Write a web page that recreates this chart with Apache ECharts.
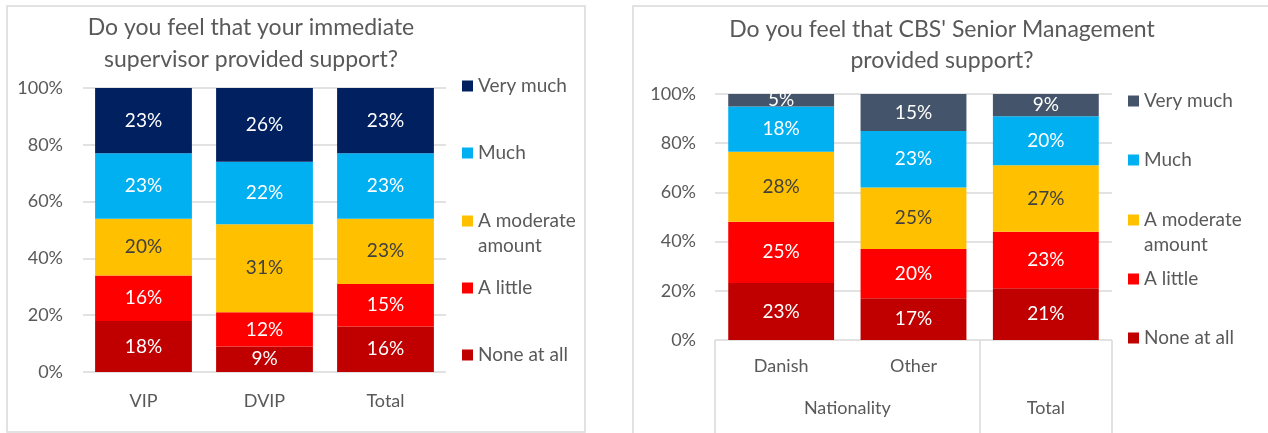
<!DOCTYPE html>
<html><head><meta charset="utf-8">
<script src="https://cdn.jsdelivr.net/npm/echarts@6/dist/echarts.min.js"></script>
<style>html,body{margin:0;padding:0;background:#fff}#c{width:1268px;height:433px}</style>
</head><body><div id="c"></div>
<script>
const seriesNames = ['None at all', 'A little', 'A moderate amount', 'Much', 'Very much'];
const leftCats = ['VIP', 'DVIP', 'Total'];
const leftNone = [18, 9, 16];
const leftLittle = [16, 12, 15];
const leftModerate = [20, 31, 23];
const leftMuch = [23, 22, 23];
const leftVery = [23, 26, 23];
const rightCats = ['Danish', 'Other', 'Total'];
const rightGroups = ['Nationality', 'Total'];
const rightNone = [23.2, 17, 21];
const rightLittle = [24.9, 20, 23];
const rightModerate = [28.4, 25, 27];
const rightMuch = [18.4, 23, 20];
const rightVery = [5.1, 15, 9];
const yTicks = [0, 20, 40, 60, 80, 100];
const leftTitle = 'Do you feel that your immediate\nsupervisor provided support?';
const rightTitle = "Do you feel that CBS' Senior Management\nprovided support?";

const FONT = 'Lato';
const GRAY = '#595959';
const colorsL = ['#C00000', '#FF0000', '#FFC000', '#00B0F0', '#002060'];
const colorsR = ['#C00000', '#FF0000', '#FFC000', '#00B0F0', '#44546A'];
const labelColors = ['#fff', '#fff', '#404040', '#fff', '#fff'];

const leftData = [leftNone, leftLittle, leftModerate, leftMuch, leftVery];
const rightData = [rightNone, rightLittle, rightModerate, rightMuch, rightVery];

function mkSeries(data, colors, xi, yi, stack) {
  return data.map((d, i) => ({
    name: seriesNames[i], type: 'bar', stack: stack,
    xAxisIndex: xi, yAxisIndex: yi, barCategoryGap: '20%',
    data: d, itemStyle: { color: colors[i] },
    label: { show: true, position: 'inside', color: labelColors[i], fontFamily: FONT, fontSize: 19,
      formatter: p => Math.round(p.value) + '%' }
  }));
}

function legendItem(name, color, left, centerY, twoLine) {
  const lh = 25;
  const h = twoLine ? lh * 3 : lh;
  return {
    data: [{ name: name, itemStyle: { color: color } }],
    left: left, top: centerY - h / 2, padding: 0,
    icon: 'rect', itemWidth: 11, itemHeight: 11, selectedMode: false,
    formatter: twoLine ? ' \nA moderate\namount' : '{name}',
    textStyle: { color: GRAY, fontFamily: FONT, fontSize: 19, lineHeight: lh }
  };
}

const legCentersL = [355, 288, 221, 153, 86];
const legCentersR = [338, 279, 220, 160, 101];
const legends = [];
seriesNames.forEach((n, i) => {
  legends.push(legendItem(n, colorsL[i], 462, legCentersL[i], i === 2));
  legends.push(legendItem(n, colorsR[i], 1128, legCentersR[i], i === 2));
});

const yAxisBase = {
  type: 'value', min: 0, max: 100, interval: 20,
  axisLabel: { color: GRAY, fontFamily: FONT, fontSize: 18, formatter: '{value}%', margin: 20 },
  splitLine: { lineStyle: { color: '#d9d9d9', width: 1.5 } },
  axisLine: { show: false }, axisTick: { show: false }
};

const option = {
  animation: false,
  title: [
    { text: leftTitle, left: 251, top: 12, textAlign: 'center', padding: 0,
      textStyle: { color: GRAY, fontFamily: FONT, fontSize: 23, fontWeight: 'normal', lineHeight: 32 } },
    { text: rightTitle, left: 942, top: 14, textAlign: 'center', padding: 0,
      textStyle: { color: GRAY, fontFamily: FONT, fontSize: 23, fontWeight: 'normal', lineHeight: 31 } }
  ],
  legend: legends,
  graphic: [
    { type: 'rect', shape: { x: 7, y: 6, width: 578, height: 426 }, style: { fill: 'none', stroke: '#d9d9d9', lineWidth: 1.5 }, silent: true },
    { type: 'rect', shape: { x: 633, y: 6, width: 700, height: 500 }, style: { fill: 'none', stroke: '#d9d9d9', lineWidth: 1.5 }, silent: true }
  ],
  grid: [
    { left: 83, right: 822, top: 88, bottom: 61 },
    { left: 715, right: 156, top: 94, bottom: 93 }
  ],
  xAxis: [
    { type: 'category', gridIndex: 0, data: leftCats,
      axisLine: { show: false }, axisTick: { show: false },
      axisLabel: { color: GRAY, fontFamily: FONT, fontSize: 18, margin: 20 } },
    { type: 'category', gridIndex: 1, data: rightCats, position: 'bottom',
      axisLine: { show: false }, axisTick: { show: false },
      axisLabel: { color: GRAY, fontFamily: FONT, fontSize: 18, margin: 17,
        formatter: v => (v === 'Total' ? '' : v) } },
    { type: 'value', gridIndex: 1, min: 0, max: 3, position: 'bottom',
      splitLine: { show: false }, axisLine: { show: false },
      axisTick: { show: true, customValues: [0, 2, 3], length: 93, lineStyle: { color: '#d9d9d9', width: 1.5 } },
      axisLabel: { show: true, customValues: [1, 2.5], margin: 59, color: GRAY, fontFamily: FONT, fontSize: 18,
        formatter: v => (v === 1 ? rightGroups[0] : (v === 2.5 ? rightGroups[1] : '')) } }
  ],
  yAxis: [
    Object.assign({ gridIndex: 0 }, yAxisBase),
    Object.assign({ gridIndex: 1 }, yAxisBase, { axisLabel: Object.assign({}, yAxisBase.axisLabel, { margin: 19 }) })
  ],
  series: mkSeries(leftData, colorsL, 0, 0, 'L').concat(mkSeries(rightData, colorsR, 1, 1, 'R'))
};

echarts.init(document.getElementById('c')).setOption(option);
</script></body></html>
